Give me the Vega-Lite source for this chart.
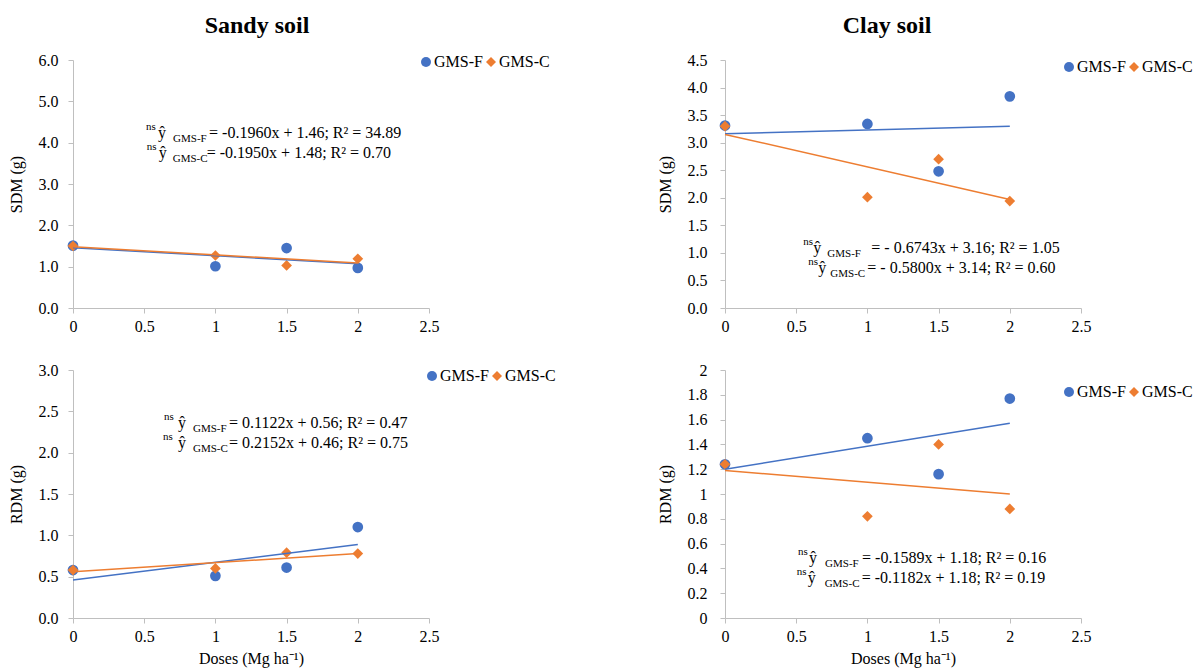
{
  "$schema": "https://vega.github.io/schema/vega-lite/v6.json",
  "background": "white",
  "padding": {"left": 8, "top": 14, "right": 3, "bottom": 3},
  "config": {
    "view": {"stroke": null},
    "font": "Liberation Serif",
    "text": {"font": "Liberation Serif", "color": "#000000"},
    "axis": {"domainColor": "#bfbfbf", "tickColor": "#bfbfbf", "grid": false, "labelFont": "Liberation Serif", "labelFontSize": 16, "labelColor": "#000000", "titleFont": "Liberation Serif", "titleFontSize": 16, "titleFontWeight": "normal", "titleColor": "#000000", "tickSize": 5, "labelFlush": false, "labelOverlap": false},
    "axisX": {"labelPadding": 5, "titlePadding": 6},
    "axisY": {"labelPadding": 10, "titlePadding": 14},
    "legend": {"labelFont": "Liberation Serif", "labelFontSize": 16, "labelColor": "#000000", "symbolSize": 100, "labelOffset": 0, "columnPadding": 0, "symbolStrokeWidth": 0, "padding": 0},
    "title": {"font": "Liberation Serif", "fontSize": 24, "fontWeight": "bold", "color": "#000000"}
  },
  "datasets": {
    "pts": [
      {"panel": "sandy_sdm", "series": "GMS-F", "dose": 0, "value": 1.51},
      {"panel": "sandy_sdm", "series": "GMS-F", "dose": 1, "value": 1.01},
      {"panel": "sandy_sdm", "series": "GMS-F", "dose": 1.5, "value": 1.45},
      {"panel": "sandy_sdm", "series": "GMS-F", "dose": 2, "value": 0.97},
      {"panel": "sandy_sdm", "series": "GMS-C", "dose": 0, "value": 1.5},
      {"panel": "sandy_sdm", "series": "GMS-C", "dose": 1, "value": 1.27},
      {"panel": "sandy_sdm", "series": "GMS-C", "dose": 1.5, "value": 1.03},
      {"panel": "sandy_sdm", "series": "GMS-C", "dose": 2, "value": 1.19},
      {"panel": "clay_sdm", "series": "GMS-F", "dose": 0, "value": 3.31},
      {"panel": "clay_sdm", "series": "GMS-F", "dose": 1, "value": 3.34},
      {"panel": "clay_sdm", "series": "GMS-F", "dose": 1.5, "value": 2.48},
      {"panel": "clay_sdm", "series": "GMS-F", "dose": 2, "value": 3.84},
      {"panel": "clay_sdm", "series": "GMS-C", "dose": 0, "value": 3.3},
      {"panel": "clay_sdm", "series": "GMS-C", "dose": 1, "value": 2.01},
      {"panel": "clay_sdm", "series": "GMS-C", "dose": 1.5, "value": 2.7},
      {"panel": "clay_sdm", "series": "GMS-C", "dose": 2, "value": 1.94},
      {"panel": "sandy_rdm", "series": "GMS-F", "dose": 0, "value": 0.58},
      {"panel": "sandy_rdm", "series": "GMS-F", "dose": 1, "value": 0.51},
      {"panel": "sandy_rdm", "series": "GMS-F", "dose": 1.5, "value": 0.61},
      {"panel": "sandy_rdm", "series": "GMS-F", "dose": 2, "value": 1.1},
      {"panel": "sandy_rdm", "series": "GMS-C", "dose": 0, "value": 0.58},
      {"panel": "sandy_rdm", "series": "GMS-C", "dose": 1, "value": 0.6},
      {"panel": "sandy_rdm", "series": "GMS-C", "dose": 1.5, "value": 0.79},
      {"panel": "sandy_rdm", "series": "GMS-C", "dose": 2, "value": 0.78},
      {"panel": "clay_rdm", "series": "GMS-F", "dose": 0, "value": 1.24},
      {"panel": "clay_rdm", "series": "GMS-F", "dose": 1, "value": 1.45},
      {"panel": "clay_rdm", "series": "GMS-F", "dose": 1.5, "value": 1.16},
      {"panel": "clay_rdm", "series": "GMS-F", "dose": 2, "value": 1.77},
      {"panel": "clay_rdm", "series": "GMS-C", "dose": 0, "value": 1.24},
      {"panel": "clay_rdm", "series": "GMS-C", "dose": 1, "value": 0.82},
      {"panel": "clay_rdm", "series": "GMS-C", "dose": 1.5, "value": 1.4},
      {"panel": "clay_rdm", "series": "GMS-C", "dose": 2, "value": 0.88}
    ],
    "fit": [
      {"panel": "sandy_sdm", "series": "GMS-F", "dose": 0, "value": 1.46},
      {"panel": "sandy_sdm", "series": "GMS-F", "dose": 2, "value": 1.07},
      {"panel": "sandy_sdm", "series": "GMS-C", "dose": 0, "value": 1.48},
      {"panel": "sandy_sdm", "series": "GMS-C", "dose": 2, "value": 1.09},
      {"panel": "clay_sdm", "series": "GMS-F", "dose": 0, "value": 3.16},
      {"panel": "clay_sdm", "series": "GMS-F", "dose": 2, "value": 3.3},
      {"panel": "clay_sdm", "series": "GMS-C", "dose": 0, "value": 3.15},
      {"panel": "clay_sdm", "series": "GMS-C", "dose": 2, "value": 1.97},
      {"panel": "sandy_rdm", "series": "GMS-F", "dose": 0, "value": 0.46},
      {"panel": "sandy_rdm", "series": "GMS-F", "dose": 2, "value": 0.89},
      {"panel": "sandy_rdm", "series": "GMS-C", "dose": 0, "value": 0.56},
      {"panel": "sandy_rdm", "series": "GMS-C", "dose": 2, "value": 0.78},
      {"panel": "clay_rdm", "series": "GMS-F", "dose": 0, "value": 1.2},
      {"panel": "clay_rdm", "series": "GMS-F", "dose": 2, "value": 1.57},
      {"panel": "clay_rdm", "series": "GMS-C", "dose": 0, "value": 1.19},
      {"panel": "clay_rdm", "series": "GMS-C", "dose": 2, "value": 1.0}
    ]
  },
  "columns": 2,
  "spacing": {"row": 62, "column": 296},
  "bounds": "flush",
  "resolve": {"scale": {"x": "independent", "y": "independent", "color": "independent", "shape": "independent"}, "legend": {"color": "independent", "shape": "independent"}},
  "concat": [
    {
      "width": 356, "height": 248,
      "title": {"text": "Sandy soil", "offset": 14, "dx": 6},
      "layer": [
        {
          "data": {"name": "pts"},
          "transform": [{"filter": "datum.panel === 'sandy_sdm'"}],
          "mark": {"type": "point", "filled": true, "size": 115, "opacity": 1},
          "encoding": {
            "x": {"field": "dose", "type": "quantitative", "scale": {"domain": [0, 2.5], "nice": false}, "axis": {"values": [0, 0.5, 1, 1.5, 2, 2.5], "tickCount": 20, "labelExpr": "'' + datum.value", "title": null, "labelOverlap": false}},
            "y": {"field": "value", "type": "quantitative", "scale": {"domain": [0, 6], "nice": false}, "axis": {"values": [0, 1, 2, 3, 4, 5, 6], "tickCount": 20, "format": ".1f", "title": "SDM (g)", "labelOverlap": false}},
            "color": {"field": "series", "type": "nominal", "scale": {"domain": ["GMS-F", "GMS-C"], "range": ["#4472C4", "#ED7D31"]}, "legend": {"orient": "none", "legendX": 345, "legendY": -6, "direction": "horizontal", "title": null}},
            "shape": {"field": "series", "type": "nominal", "scale": {"domain": ["GMS-F", "GMS-C"], "range": ["circle", "diamond"]}, "legend": {"orient": "none", "legendX": 345, "legendY": -6, "direction": "horizontal", "title": null}}
          }
        },
        {
          "data": {"name": "fit"},
          "transform": [{"filter": "datum.panel === 'sandy_sdm' && datum.series === 'GMS-F'"}],
          "mark": {"type": "line", "strokeWidth": 1.5, "color": "#4472C4"},
          "encoding": {"x": {"field": "dose", "type": "quantitative"}, "y": {"field": "value", "type": "quantitative"}}
        },
        {
          "data": {"name": "fit"},
          "transform": [{"filter": "datum.panel === 'sandy_sdm' && datum.series === 'GMS-C'"}],
          "mark": {"type": "line", "strokeWidth": 1.5, "color": "#ED7D31"},
          "encoding": {"x": {"field": "dose", "type": "quantitative"}, "y": {"field": "value", "type": "quantitative"}}
        },
        {
          "data": {"values": [{"ns": "ns", "hat": "ŷ", "sub": "GMS-F", "rest": "= -0.1960x + 1.46; R² = 34.89"}]},
          "encoding": {"x": {"datum": 0.513, "type": "quantitative"}, "y": {"datum": 4.12, "type": "quantitative"}},
          "layer": [
            {"mark": {"type": "text", "align": "left", "baseline": "alphabetic", "fontSize": 11, "dy": -8}, "encoding": {"text": {"field": "ns"}}},
            {"mark": {"type": "text", "align": "left", "baseline": "alphabetic", "fontSize": 16, "dx": 12}, "encoding": {"text": {"field": "hat"}}},
            {"mark": {"type": "text", "align": "left", "baseline": "alphabetic", "fontSize": 11, "dx": 27, "dy": 4}, "encoding": {"text": {"field": "sub"}}},
            {"mark": {"type": "text", "align": "left", "baseline": "alphabetic", "fontSize": 16, "dx": 63}, "encoding": {"text": {"field": "rest"}}}
          ]
        },
        {
          "data": {"values": [{"ns": "ns", "hat": "ŷ", "sub": "GMS-C", "rest": "= -0.1950x + 1.48; R² = 0.70"}]},
          "encoding": {"x": {"datum": 0.518, "type": "quantitative"}, "y": {"datum": 3.64, "type": "quantitative"}},
          "layer": [
            {"mark": {"type": "text", "align": "left", "baseline": "alphabetic", "fontSize": 11, "dy": -8}, "encoding": {"text": {"field": "ns"}}},
            {"mark": {"type": "text", "align": "left", "baseline": "alphabetic", "fontSize": 16, "dx": 12}, "encoding": {"text": {"field": "hat"}}},
            {"mark": {"type": "text", "align": "left", "baseline": "alphabetic", "fontSize": 11, "dx": 26, "dy": 4}, "encoding": {"text": {"field": "sub"}}},
            {"mark": {"type": "text", "align": "left", "baseline": "alphabetic", "fontSize": 16, "dx": 60}, "encoding": {"text": {"field": "rest"}}}
          ]
        }
      ]
    },
    {
      "width": 356, "height": 248,
      "title": {"text": "Clay soil", "offset": 14, "dx": -16},
      "layer": [
        {
          "data": {"name": "pts"},
          "transform": [{"filter": "datum.panel === 'clay_sdm'"}],
          "mark": {"type": "point", "filled": true, "size": 115, "opacity": 1},
          "encoding": {
            "x": {"field": "dose", "type": "quantitative", "scale": {"domain": [0, 2.5], "nice": false}, "axis": {"values": [0, 0.5, 1, 1.5, 2, 2.5], "tickCount": 20, "labelExpr": "'' + datum.value", "title": null, "labelOverlap": false}},
            "y": {"field": "value", "type": "quantitative", "scale": {"domain": [0, 4.5], "nice": false}, "axis": {"values": [0, 0.5, 1, 1.5, 2, 2.5, 3, 3.5, 4, 4.5], "tickCount": 20, "format": ".1f", "title": "SDM (g)", "labelPadding": 13, "labelOverlap": false}},
            "color": {"field": "series", "type": "nominal", "scale": {"domain": ["GMS-F", "GMS-C"], "range": ["#4472C4", "#ED7D31"]}, "legend": {"orient": "none", "legendX": 336, "legendY": -1, "direction": "horizontal", "title": null}},
            "shape": {"field": "series", "type": "nominal", "scale": {"domain": ["GMS-F", "GMS-C"], "range": ["circle", "diamond"]}, "legend": {"orient": "none", "legendX": 336, "legendY": -1, "direction": "horizontal", "title": null}}
          }
        },
        {
          "data": {"name": "fit"},
          "transform": [{"filter": "datum.panel === 'clay_sdm' && datum.series === 'GMS-F'"}],
          "mark": {"type": "line", "strokeWidth": 1.5, "color": "#4472C4"},
          "encoding": {"x": {"field": "dose", "type": "quantitative"}, "y": {"field": "value", "type": "quantitative"}}
        },
        {
          "data": {"name": "fit"},
          "transform": [{"filter": "datum.panel === 'clay_sdm' && datum.series === 'GMS-C'"}],
          "mark": {"type": "line", "strokeWidth": 1.5, "color": "#ED7D31"},
          "encoding": {"x": {"field": "dose", "type": "quantitative"}, "y": {"field": "value", "type": "quantitative"}}
        },
        {
          "data": {"values": [{"ns": "ns", "hat": "ŷ", "sub": "GMS-F", "rest": "= - 0.6743x + 3.16; R² =  1.05"}]},
          "encoding": {"x": {"datum": 0.55, "type": "quantitative"}, "y": {"datum": 0.993, "type": "quantitative"}},
          "layer": [
            {"mark": {"type": "text", "align": "left", "baseline": "alphabetic", "fontSize": 11, "dy": -8}, "encoding": {"text": {"field": "ns"}}},
            {"mark": {"type": "text", "align": "left", "baseline": "alphabetic", "fontSize": 16, "dx": 10}, "encoding": {"text": {"field": "hat"}}},
            {"mark": {"type": "text", "align": "left", "baseline": "alphabetic", "fontSize": 11, "dx": 24, "dy": 4}, "encoding": {"text": {"field": "sub"}}},
            {"mark": {"type": "text", "align": "left", "baseline": "alphabetic", "fontSize": 16, "dx": 68}, "encoding": {"text": {"field": "rest"}}}
          ]
        },
        {
          "data": {"values": [{"ns": "ns", "hat": "ŷ", "sub": "GMS-C", "rest": "= - 0.5800x + 3.14; R² = 0.60"}]},
          "encoding": {"x": {"datum": 0.585, "type": "quantitative"}, "y": {"datum": 0.64, "type": "quantitative"}},
          "layer": [
            {"mark": {"type": "text", "align": "left", "baseline": "alphabetic", "fontSize": 11, "dy": -8}, "encoding": {"text": {"field": "ns"}}},
            {"mark": {"type": "text", "align": "left", "baseline": "alphabetic", "fontSize": 16, "dx": 10}, "encoding": {"text": {"field": "hat"}}},
            {"mark": {"type": "text", "align": "left", "baseline": "alphabetic", "fontSize": 11, "dx": 22, "dy": 4}, "encoding": {"text": {"field": "sub"}}},
            {"mark": {"type": "text", "align": "left", "baseline": "alphabetic", "fontSize": 16, "dx": 59}, "encoding": {"text": {"field": "rest"}}}
          ]
        }
      ]
    },
    {
      "width": 356, "height": 248,
      "layer": [
        {
          "data": {"name": "pts"},
          "transform": [{"filter": "datum.panel === 'sandy_rdm'"}],
          "mark": {"type": "point", "filled": true, "size": 115, "opacity": 1},
          "encoding": {
            "x": {"field": "dose", "type": "quantitative", "scale": {"domain": [0, 2.5], "nice": false}, "axis": {"values": [0, 0.5, 1, 1.5, 2, 2.5], "tickCount": 20, "labelExpr": "'' + datum.value", "title": "Doses (Mg ha⁻¹)", "labelOverlap": false}},
            "y": {"field": "value", "type": "quantitative", "scale": {"domain": [0, 3], "nice": false}, "axis": {"values": [0, 0.5, 1, 1.5, 2, 2.5, 3], "tickCount": 20, "format": ".1f", "title": "RDM (g)", "labelOverlap": false}},
            "color": {"field": "series", "type": "nominal", "scale": {"domain": ["GMS-F", "GMS-C"], "range": ["#4472C4", "#ED7D31"]}, "legend": {"orient": "none", "legendX": 351, "legendY": -2, "direction": "horizontal", "title": null}},
            "shape": {"field": "series", "type": "nominal", "scale": {"domain": ["GMS-F", "GMS-C"], "range": ["circle", "diamond"]}, "legend": {"orient": "none", "legendX": 351, "legendY": -2, "direction": "horizontal", "title": null}}
          }
        },
        {
          "data": {"name": "fit"},
          "transform": [{"filter": "datum.panel === 'sandy_rdm' && datum.series === 'GMS-F'"}],
          "mark": {"type": "line", "strokeWidth": 1.5, "color": "#4472C4"},
          "encoding": {"x": {"field": "dose", "type": "quantitative"}, "y": {"field": "value", "type": "quantitative"}}
        },
        {
          "data": {"name": "fit"},
          "transform": [{"filter": "datum.panel === 'sandy_rdm' && datum.series === 'GMS-C'"}],
          "mark": {"type": "line", "strokeWidth": 1.5, "color": "#ED7D31"},
          "encoding": {"x": {"field": "dose", "type": "quantitative"}, "y": {"field": "value", "type": "quantitative"}}
        },
        {
          "data": {"values": [{"ns": "ns", "hat": "ŷ", "sub": "GMS-F", "rest": "= 0.1122x + 0.56; R² = 0.47"}]},
          "encoding": {"x": {"datum": 0.639, "type": "quantitative"}, "y": {"datum": 2.3, "type": "quantitative"}},
          "layer": [
            {"mark": {"type": "text", "align": "left", "baseline": "alphabetic", "fontSize": 11, "dy": -8}, "encoding": {"text": {"field": "ns"}}},
            {"mark": {"type": "text", "align": "left", "baseline": "alphabetic", "fontSize": 16, "dx": 14}, "encoding": {"text": {"field": "hat"}}},
            {"mark": {"type": "text", "align": "left", "baseline": "alphabetic", "fontSize": 11, "dx": 29, "dy": 4}, "encoding": {"text": {"field": "sub"}}},
            {"mark": {"type": "text", "align": "left", "baseline": "alphabetic", "fontSize": 16, "dx": 65}, "encoding": {"text": {"field": "rest"}}}
          ]
        },
        {
          "data": {"values": [{"ns": "ns", "hat": "ŷ", "sub": "GMS-C", "rest": "= 0.2152x + 0.46; R² = 0.75"}]},
          "encoding": {"x": {"datum": 0.632, "type": "quantitative"}, "y": {"datum": 2.06, "type": "quantitative"}},
          "layer": [
            {"mark": {"type": "text", "align": "left", "baseline": "alphabetic", "fontSize": 11, "dy": -8}, "encoding": {"text": {"field": "ns"}}},
            {"mark": {"type": "text", "align": "left", "baseline": "alphabetic", "fontSize": 16, "dx": 15}, "encoding": {"text": {"field": "hat"}}},
            {"mark": {"type": "text", "align": "left", "baseline": "alphabetic", "fontSize": 11, "dx": 30, "dy": 4}, "encoding": {"text": {"field": "sub"}}},
            {"mark": {"type": "text", "align": "left", "baseline": "alphabetic", "fontSize": 16, "dx": 66}, "encoding": {"text": {"field": "rest"}}}
          ]
        }
      ]
    },
    {
      "width": 356, "height": 248,
      "layer": [
        {
          "data": {"name": "pts"},
          "transform": [{"filter": "datum.panel === 'clay_rdm'"}],
          "mark": {"type": "point", "filled": true, "size": 115, "opacity": 1},
          "encoding": {
            "x": {"field": "dose", "type": "quantitative", "scale": {"domain": [0, 2.5], "nice": false}, "axis": {"values": [0, 0.5, 1, 1.5, 2, 2.5], "tickCount": 20, "labelExpr": "'' + datum.value", "title": "Doses (Mg ha⁻¹)", "labelOverlap": false}},
            "y": {"field": "value", "type": "quantitative", "scale": {"domain": [0, 2], "nice": false}, "axis": {"values": [0, 0.2, 0.4, 0.6, 0.8, 1, 1.2, 1.4, 1.6, 1.8, 2], "tickCount": 20, "labelExpr": "'' + datum.value", "title": "RDM (g)", "labelPadding": 13, "labelOverlap": false}},
            "color": {"field": "series", "type": "nominal", "scale": {"domain": ["GMS-F", "GMS-C"], "range": ["#4472C4", "#ED7D31"]}, "legend": {"orient": "none", "legendX": 336, "legendY": 14, "direction": "horizontal", "title": null}},
            "shape": {"field": "series", "type": "nominal", "scale": {"domain": ["GMS-F", "GMS-C"], "range": ["circle", "diamond"]}, "legend": {"orient": "none", "legendX": 336, "legendY": 14, "direction": "horizontal", "title": null}}
          }
        },
        {
          "data": {"name": "fit"},
          "transform": [{"filter": "datum.panel === 'clay_rdm' && datum.series === 'GMS-F'"}],
          "mark": {"type": "line", "strokeWidth": 1.5, "color": "#4472C4"},
          "encoding": {"x": {"field": "dose", "type": "quantitative"}, "y": {"field": "value", "type": "quantitative"}}
        },
        {
          "data": {"name": "fit"},
          "transform": [{"filter": "datum.panel === 'clay_rdm' && datum.series === 'GMS-C'"}],
          "mark": {"type": "line", "strokeWidth": 1.5, "color": "#ED7D31"},
          "encoding": {"x": {"field": "dose", "type": "quantitative"}, "y": {"field": "value", "type": "quantitative"}}
        },
        {
          "data": {"values": [{"ns": "ns", "hat": "ŷ", "sub": "GMS-F", "rest": "= -0.1589x + 1.18; R² = 0.16"}]},
          "encoding": {"x": {"datum": 0.513, "type": "quantitative"}, "y": {"datum": 0.441, "type": "quantitative"}},
          "layer": [
            {"mark": {"type": "text", "align": "left", "baseline": "alphabetic", "fontSize": 11, "dy": -8}, "encoding": {"text": {"field": "ns"}}},
            {"mark": {"type": "text", "align": "left", "baseline": "alphabetic", "fontSize": 16, "dx": 11}, "encoding": {"text": {"field": "hat"}}},
            {"mark": {"type": "text", "align": "left", "baseline": "alphabetic", "fontSize": 11, "dx": 27, "dy": 4}, "encoding": {"text": {"field": "sub"}}},
            {"mark": {"type": "text", "align": "left", "baseline": "alphabetic", "fontSize": 16, "dx": 64}, "encoding": {"text": {"field": "rest"}}}
          ]
        },
        {
          "data": {"values": [{"ns": "ns", "hat": "ŷ", "sub": "GMS-C", "rest": "= -0.1182x + 1.18; R² = 0.19"}]},
          "encoding": {"x": {"datum": 0.503, "type": "quantitative"}, "y": {"datum": 0.285, "type": "quantitative"}},
          "layer": [
            {"mark": {"type": "text", "align": "left", "baseline": "alphabetic", "fontSize": 11, "dy": -8}, "encoding": {"text": {"field": "ns"}}},
            {"mark": {"type": "text", "align": "left", "baseline": "alphabetic", "fontSize": 16, "dx": 11}, "encoding": {"text": {"field": "hat"}}},
            {"mark": {"type": "text", "align": "left", "baseline": "alphabetic", "fontSize": 11, "dx": 28, "dy": 4}, "encoding": {"text": {"field": "sub"}}},
            {"mark": {"type": "text", "align": "left", "baseline": "alphabetic", "fontSize": 16, "dx": 65}, "encoding": {"text": {"field": "rest"}}}
          ]
        }
      ]
    }
  ]
}
